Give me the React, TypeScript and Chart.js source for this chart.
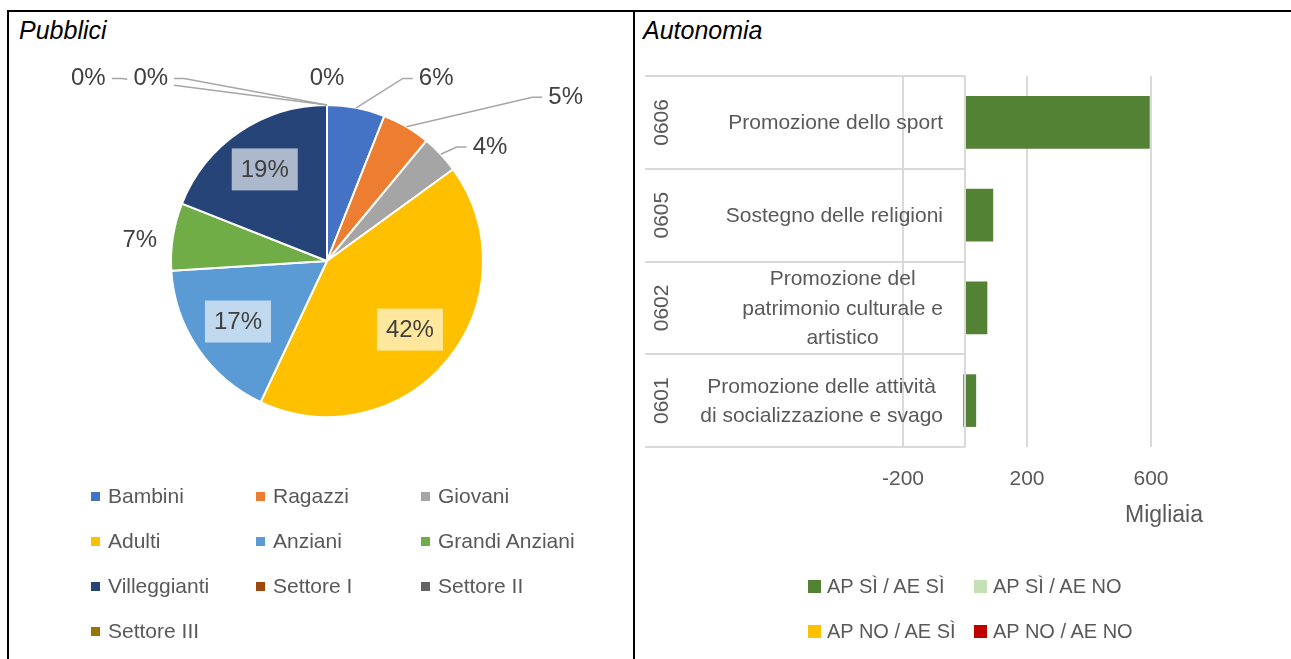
import React, { useEffect, useRef } from 'react';
import { Chart, registerables } from 'chart.js';

Chart.register(...registerables);

// ---------- Data: "Pubblici" pie ----------
const pieCategories = ['Bambini', 'Ragazzi', 'Giovani', 'Adulti', 'Anziani', 'Grandi Anziani', 'Villeggianti', 'Settore I', 'Settore II', 'Settore III'];
const pieValues = [6, 5, 4, 42, 17, 7, 19, 0, 0, 0];
const pieColors = ['#4472C4', '#ED7D31', '#A5A5A5', '#FFC000', '#5B9BD5', '#70AD47', '#264478', '#9E480E', '#636363', '#997300'];

// ---------- Data: "Autonomia" bars ----------
const barCodes = ['0606', '0605', '0602', '0601'];
const barNames = [
  ['Promozione dello sport'],
  ['Sostegno delle religioni'],
  ['Promozione del', 'patrimonio culturale e', 'artistico'],
  ['Promozione delle attività', 'di socializzazione e svago'],
];
const seriesNames = ['AP SÌ / AE SÌ', 'AP SÌ / AE NO', 'AP NO / AE SÌ', 'AP NO / AE NO'];
const apSiAeSi = [596, 91, 72, 36];
const apSiAeNo = [0, 0, 0, 0];
const apNoAeSi = [0, 0, 0, 0];
const apNoAeNo = [0, 0, 0, -5];
const seriesColors = ['#548235', '#C5E0B4', '#FFC000', '#C00000'];
const xMin = -200;
const xMax = 600;
const xStep = 400;
const xUnitLabel = 'Migliaia';

// ---------- Styling ----------
const FONT = '"Liberation Sans", Arial, sans-serif';
const TEXT_GREY = '#595959';
const LABEL_GREY = '#404040';
const GRID = '#D9D9D9';

// label placement for pie (style only): inside = along mid-angle; otherwise offset in radius units
const pieLabelPlacement: any[] = [
  { dx: 0.70, dy: -1.17, leader: 'left' },
  { dx: 1.53, dy: -1.05, leader: 'left' },
  { dx: 1.045, dy: -0.73, leader: 'left' },
  { inside: 0.69 },
  { inside: 0.69 },
  { dx: -1.20, dy: -0.135 },
  { inside: 0.71 },
  { dx: 0, dy: -1.17 },
  { dx: -1.13, dy: -1.17, leader: 'right' },
  { dx: -1.53, dy: -1.17, leader: 'right' },
];

const pieLabelPlugin = {
  id: 'pieLabels',
  afterDatasetsDraw(chart: any) {
    const ctx = chart.ctx;
    const meta = chart.getDatasetMeta(0);
    const total = pieValues.reduce((a, b) => a + b, 0);
    ctx.save();
    ctx.font = `24px ${FONT}`;
    ctx.textBaseline = 'middle';
    ctx.textAlign = 'center';
    const items = meta.data.map((arc: any, i: number) => {
      const p = arc.getProps(['x', 'y', 'startAngle', 'endAngle', 'outerRadius'], true);
      const mid = (p.startAngle + p.endAngle) / 2;
      const text = Math.round((pieValues[i] / total) * 100) + '%';
      const w = ctx.measureText(text).width;
      const pl = pieLabelPlacement[i];
      let lx: number, ly: number;
      if (pl.inside) {
        lx = p.x + Math.cos(mid) * p.outerRadius * pl.inside;
        ly = p.y + Math.sin(mid) * p.outerRadius * pl.inside;
      } else {
        lx = p.x + pl.dx * p.outerRadius;
        ly = p.y + pl.dy * p.outerRadius;
      }
      const ex = p.x + Math.cos(mid) * p.outerRadius;
      const ey = p.y + Math.sin(mid) * p.outerRadius;
      return { text, w, lx, ly, ex, ey, pl };
    });
    // leaders
    ctx.strokeStyle = '#A6A6A6';
    ctx.lineWidth = 1.5;
    items.forEach((it: any) => {
      if (!it.pl.leader) return;
      let endX: number, elbowX: number;
      if (it.pl.leader === 'left') {
        endX = it.lx - it.w / 2 - 6;
        elbowX = endX - 10;
      } else {
        endX = it.lx + it.w / 2 + 6;
        elbowX = endX + 10;
      }
      ctx.beginPath();
      ctx.moveTo(it.ex, it.ey);
      ctx.lineTo(elbowX, it.ly);
      ctx.lineTo(endX, it.ly);
      ctx.stroke();
    });
    // outside labels (with white mask)
    items.forEach((it: any) => {
      if (it.pl.inside) return;
      ctx.fillStyle = '#FFFFFF';
      ctx.fillRect(it.lx - it.w / 2 - 6, it.ly - 13, it.w + 12, 26);
      ctx.fillStyle = LABEL_GREY;
      ctx.fillText(it.text, it.lx, it.ly);
    });
    // inside labels with translucent boxes
    items.forEach((it: any) => {
      if (!it.pl.inside) return;
      ctx.fillStyle = 'rgba(255,255,255,0.62)';
      ctx.fillRect(it.lx - it.w / 2 - 9, it.ly - 21, it.w + 18, 42);
      ctx.fillStyle = LABEL_GREY;
      ctx.fillText(it.text, it.lx, it.ly + 1);
    });
    ctx.restore();
  },
};

const barLabelPlugin = {
  id: 'barLabels',
  afterDraw(chart: any) {
    const { ctx, chartArea } = chart;
    const xs = chart.scales.x;
    const ys = chart.scales.y;
    const zeroX = xs.getPixelForValue(0);
    const leftX = chartArea.left - 258;
    const half = (ys.getPixelForValue(1) - ys.getPixelForValue(0)) / 2;
    ctx.save();
    ctx.strokeStyle = GRID;
    ctx.lineWidth = 2;
    // category separators
    for (let i = 0; i <= barCodes.length; i++) {
      const yy = Math.round(ys.getPixelForValue(0) - half + i * 2 * half);
      ctx.beginPath();
      ctx.moveTo(leftX, yy);
      ctx.lineTo(zeroX, yy);
      ctx.stroke();
    }
    // category axis line at zero
    ctx.beginPath();
    ctx.moveTo(zeroX, chartArea.top);
    ctx.lineTo(zeroX, chartArea.bottom);
    ctx.stroke();

    ctx.fillStyle = TEXT_GREY;
    ctx.font = `21px ${FONT}`;
    barCodes.forEach((code, i) => {
      const cy = ys.getPixelForValue(i);
      // rotated code
      ctx.save();
      ctx.translate(leftX + 17, cy);
      ctx.rotate(-Math.PI / 2);
      ctx.textAlign = 'center';
      ctx.textBaseline = 'middle';
      ctx.fillText(code, 0, 0);
      ctx.restore();
      // names
      const lines = barNames[i];
      const widths = lines.map((l) => ctx.measureText(l).width);
      const bw = Math.max(...widths);
      const right = zeroX - 22;
      const cx = right - bw / 2;
      const lh = 29.5;
      ctx.textAlign = 'center';
      ctx.textBaseline = 'middle';
      lines.forEach((l, k) => {
        ctx.fillText(l, cx, cy + (k - (lines.length - 1) / 2) * lh + 1);
      });
    });
    // unit label
    ctx.font = `23px ${FONT}`;
    ctx.textAlign = 'center';
    ctx.textBaseline = 'middle';
    ctx.fillText(xUnitLabel, xs.getPixelForValue(xMax) + 13, chartArea.bottom + 69);
    ctx.restore();
  },
};

function PieChart() {
  const ref = useRef<HTMLCanvasElement>(null);
  useEffect(() => {
    const chart = new Chart(ref.current!, {
      type: 'pie',
      data: {
        labels: pieCategories,
        datasets: [
          {
            data: pieValues,
            backgroundColor: pieColors,
            borderColor: '#FFFFFF',
            borderWidth: 2,
            hoverOffset: 0,
            offset: 0,
          },
        ],
      },
      options: {
        responsive: false,
        animation: false,
        events: [],
        layout: { padding: { left: 161, top: 92, right: 149, bottom: 241 } },
        plugins: { legend: { display: false }, tooltip: { enabled: false }, title: { display: false } },
      },
      plugins: [pieLabelPlugin],
    } as any);
    return () => chart.destroy();
  }, []);
  return <canvas ref={ref} width={624} height={647} style={{ position: 'absolute', left: 9, top: 12 }} />;
}

function BarChart() {
  const ref = useRef<HTMLCanvasElement>(null);
  useEffect(() => {
    const seriesData = [apSiAeSi, apSiAeNo, apNoAeSi, apNoAeNo];
    const chart = new Chart(ref.current!, {
      type: 'bar',
      data: {
        labels: barCodes,
        datasets: seriesNames.map((name, i) => ({
          label: name,
          data: seriesData[i],
          backgroundColor: seriesColors[i],
          borderWidth: 0,
          categoryPercentage: 1,
          barPercentage: 0.567,
        })),
      },
      options: {
        indexAxis: 'y',
        responsive: false,
        animation: false,
        events: [],
        layout: { padding: { left: 267, top: 63, right: 140, bottom: 147.8 } },
        plugins: { legend: { display: false }, tooltip: { enabled: false } },
        scales: {
          x: {
            type: 'linear',
            stacked: true,
            min: xMin,
            max: xMax,
            ticks: { stepSize: xStep, color: TEXT_GREY, font: { family: FONT, size: 21 }, padding: 19.5, maxRotation: 0 },
            grid: { color: GRID, lineWidth: 2, drawTicks: false },
            border: { display: false },
          },
          y: {
            type: 'category',
            stacked: true,
            display: false,
            grid: { display: false },
          },
        },
      },
      plugins: [barLabelPlugin],
    } as any);
    return () => chart.destroy();
  }, []);
  return <canvas ref={ref} width={655} height={646} style={{ position: 'absolute', left: 636, top: 13 }} />;
}

const legendText: React.CSSProperties = {
  fontFamily: FONT,
  fontSize: 21,
  color: TEXT_GREY,
  whiteSpace: 'nowrap',
  lineHeight: '24px',
};

export default function App() {
  return (
    <div style={{ position: 'fixed', left: 0, top: 0, width: 1291, height: 659, background: '#FFFFFF', overflow: 'hidden' }}>
      {/* frame */}
      <div style={{ position: 'absolute', left: 7, top: 10, width: 1284, height: 2, background: '#000' }} />
      <div style={{ position: 'absolute', left: 7, top: 10, width: 2, height: 649, background: '#000' }} />
      <div style={{ position: 'absolute', left: 633, top: 10, width: 2, height: 649, background: '#000' }} />

      <div style={{ position: 'absolute', left: 19, top: 15, fontFamily: FONT, fontStyle: 'italic', fontSize: 25, lineHeight: '30px', color: '#000' }}>Pubblici</div>
      <div style={{ position: 'absolute', left: 643, top: 15, fontFamily: FONT, fontStyle: 'italic', fontSize: 25, lineHeight: '30px', color: '#000' }}>Autonomia</div>

      <PieChart />
      <BarChart />

      {pieCategories.map((c, i) => (
        <div
          key={c}
          style={{ position: 'absolute', left: 91 + (i % 3) * 165, top: 496 + Math.floor(i / 3) * 45 - 12, height: 24, display: 'flex', alignItems: 'center' }}
        >
          <span style={{ display: 'inline-block', width: 9, height: 9, background: pieColors[i], marginRight: 8 }} />
          <span style={legendText}>{c}</span>
        </div>
      ))}

      {seriesNames.map((s, i) => (
        <div
          key={s}
          style={{ position: 'absolute', left: 808 + (i % 2) * 166, top: 586 + Math.floor(i / 2) * 45 - 12, height: 24, display: 'flex', alignItems: 'center' }}
        >
          <span style={{ display: 'inline-block', width: 13, height: 13, background: seriesColors[i], marginRight: 6 }} />
          <span style={{ ...legendText, fontSize: 20 }}>{s}</span>
        </div>
      ))}
    </div>
  );
}
